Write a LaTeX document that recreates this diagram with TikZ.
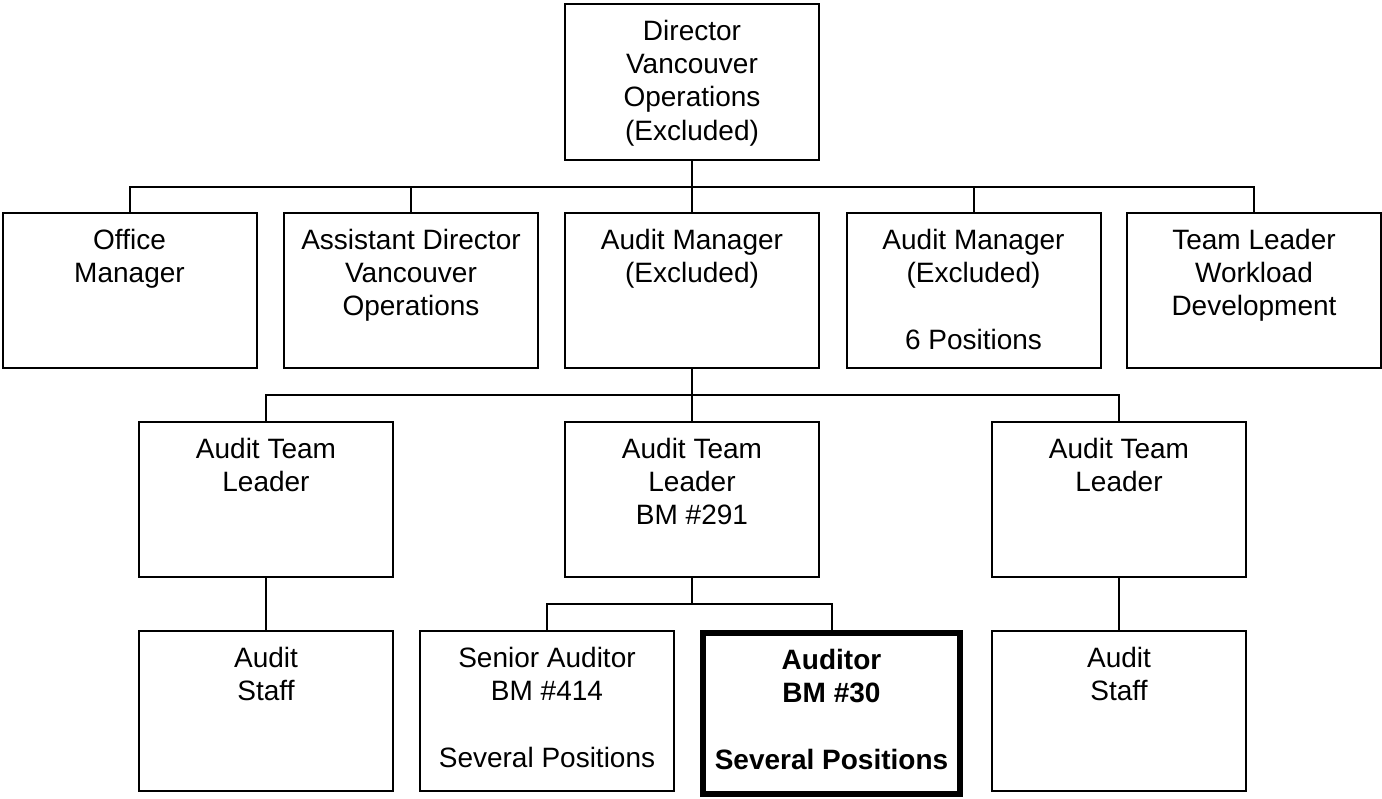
\documentclass[tikz,border=0pt]{standalone}
\usepackage{fontspec}
\setmainfont{Liberation Sans}
\newcommand{\postbox}[2]{\parbox[t][#1][t]{250pt}{\centering\strut #2}}

\begin{document}
\begin{tikzpicture}[x=1pt,y=-1pt,
  post/.style={draw,line width=2pt,outer sep=0pt,anchor=north,inner xsep=2pt,inner ysep=13pt,font=\fontsize{28}{33.3}\selectfont},
  keypost/.style={post,line width=5.5pt,inner xsep=3.5pt,font=\fontsize{28}{33.3}\selectfont\bfseries},
  link/.style={line width=2pt}]
\useasboundingbox (0,0) rectangle (1382,799);

% Director
\node[post] (dir) at (692,4) {\postbox{130pt}{Director\\Vancouver\\Operations\\(Excluded)}};

% Second level
\node[post] (off)  at (129.5,213) {\postbox{129pt}{Office\\Manager}};
\node[post] (asst) at (411,213)   {\postbox{129pt}{Assistant Director\\Vancouver\\Operations}};
\node[post] (mgr)  at (692,213)   {\postbox{129pt}{Audit Manager\\(Excluded)}};
\node[post] (mgrs) at (973.5,213) {\postbox{129pt}{Audit Manager\\(Excluded)\\[33.3pt]6 Positions}};
\node[post] (tlw)  at (1254,213)  {\postbox{129pt}{Team Leader\\Workload\\Development}};

% Team leaders
\node[post] (atlA) at (266,422)  {\postbox{129pt}{Audit Team\\Leader}};
\node[post] (atlB) at (692,422)  {\postbox{129pt}{Audit Team\\Leader\\BM \#291}};
\node[post] (atlC) at (1119,422) {\postbox{129pt}{Audit Team\\Leader}};

% Staff
\node[post] (staffA)  at (266,631)   {\postbox{134pt}{Audit\\Staff}};
\node[post] (senior)  at (547,631)   {\postbox{134pt}{Senior Auditor\\BM \#414\\[33.3pt]Several Positions}};
\node[keypost] (auditor) at (831.5,633) {\postbox{135pt}{Auditor\\BM \#30\\[33.3pt]Several Positions}};
\node[post] (staffC)  at (1119,631)  {\postbox{134pt}{Audit\\Staff}};

% Reporting lines
\foreach \c in {off,asst,mgr,mgrs,tlw}
  \draw[link] (dir.south) -- ++(0,27) -| (\c.north);
\foreach \c in {atlA,atlB,atlC}
  \draw[link] (mgr.south) -- ++(0,27) -| (\c.north);
\draw[link] (atlA.south) -- (staffA.north);
\foreach \c in {senior,auditor}
  \draw[link] (atlB.south) -- ++(0,27) -| (\c.north);
\draw[link] (atlC.south) -- (staffC.north);

\end{tikzpicture}
\end{document}
